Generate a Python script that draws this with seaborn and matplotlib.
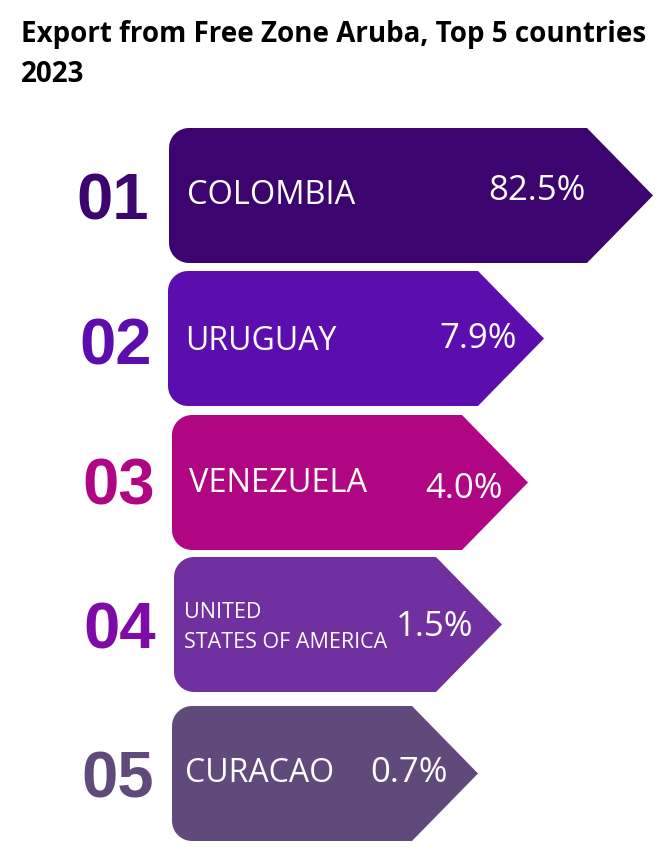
import numpy as np
import matplotlib.pyplot as plt
import seaborn as sns
from matplotlib.path import Path
from matplotlib.patches import PathPatch

# data
ranks = ["01", "02", "03", "04", "05"]
countries = ["COLOMBIA", "URUGUAY", "VENEZUELA", "UNITED\nSTATES OF AMERICA", "CURACAO"]
shares = [82.5, 7.9, 4.0, 1.5, 0.7]
title = "Export from Free Zone Aruba, Top 5 countries\n2023"

# styling / layout (pixel units, y goes down)
arrow_colors = ["#3B046F", "#5B0DAE", "#B00684", "#7030A0", "#604A7B"]
rank_colors = ["#3B046F", "#5B0DAE", "#B00684", "#7F0AA8", "#604A7B"]
row_top = [128, 271, 415, 557, 706]
row_h = 135
row_left = [169, 168, 172, 174, 172]
body_right = [587, 478, 462, 436, 412]
tip_len = 66
radius = 20
label_x = [187, 185, 189, 184, 185]
label_dy = [9, 11, 10, 24, 9]
label_size = [23.5, 23, 23.5, 15.5, 23]
pct_right = [586, 517, 503, 473, 448]
pct_dy = [5, 9, 16, 11, 9]
rank_x = [113, 116, 119, 120, 118]
rank_dy = [24, 26, 22, 24, 24]


def arrow_path(left, top, right, tip, h, r):
    bot = top + h
    mid = top + h / 2
    a1 = np.radians(np.linspace(90, 180, 12))
    a2 = np.radians(np.linspace(180, 270, 12))
    pts = [(left + r, top), (right, top), (tip, mid), (right, bot), (left + r, bot)]
    pts += [(left + r + r * np.cos(a), bot - r + r * np.sin(a)) for a in a1]
    pts += [(left + r + r * np.cos(a), top + r + r * np.sin(a)) for a in a2]
    pts.append(pts[0])
    codes = [Path.MOVETO] + [Path.LINETO] * (len(pts) - 2) + [Path.CLOSEPOLY]
    return Path(pts, codes)


sns.set_theme(style="white")
plt.rcParams["font.family"] = ["Open Sans", "DejaVu Sans"]

fig = plt.figure(figsize=(6.7, 8.52), dpi=100)
ax = fig.add_axes([0, 0, 1, 1])
ax.set_xlim(0, 670)
ax.set_ylim(852, 0)
ax.axis("off")

for i, (rank, name, val) in enumerate(zip(ranks, countries, shares)):
    top = row_top[i]
    mid = top + row_h / 2
    p = arrow_path(row_left[i], top, body_right[i], body_right[i] + tip_len, row_h, radius)
    ax.add_patch(PathPatch(p, facecolor=arrow_colors[i], edgecolor="none"))

    ax.text(rank_x[i], mid + rank_dy[i], rank, ha="center", va="baseline",
            fontsize=47, fontweight="bold", color=rank_colors[i],
            family=["Liberation Sans", "DejaVu Sans"])

    lines = name.split("\n")
    for j, line in enumerate(lines):
        yb = mid + label_dy[i] + (j - (len(lines) - 1)) * 30
        ax.text(label_x[i], yb, line, ha="left", va="baseline",
                fontsize=label_size[i], color="white")

    ax.text(pct_right[i], mid + pct_dy[i], f"{val:.1f}%", ha="right", va="baseline",
            fontsize=25, color="white")

for k, line in enumerate(title.split("\n")):
    ax.text(21, 42 + 40 * k, line, ha="left", va="baseline", fontsize=20,
            fontweight="bold", color="black")

fig.savefig("out.png", dpi=100)
